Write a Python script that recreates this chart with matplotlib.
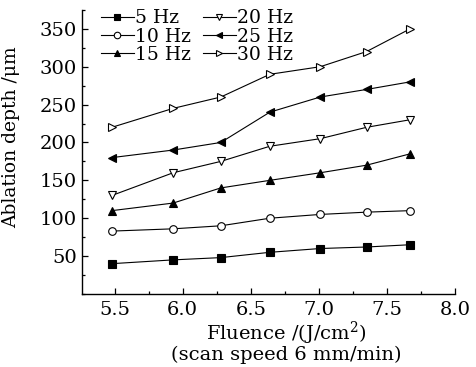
import matplotlib
matplotlib.use("Agg")
import matplotlib.pyplot as plt
from matplotlib.ticker import MultipleLocator

fluence = [5.48, 5.93, 6.28, 6.64, 7.01, 7.35, 7.67]
labels = ["5 Hz", "10 Hz", "15 Hz", "20 Hz", "25 Hz", "30 Hz"]
d5 = [40, 45, 48, 55, 60, 62, 65]
d10 = [83, 86, 90, 100, 105, 108, 110]
d15 = [110, 120, 140, 150, 160, 170, 185]
d20 = [130, 160, 175, 195, 205, 220, 230]
d25 = [180, 190, 200, 240, 260, 270, 280]
d30 = [220, 245, 260, 290, 300, 320, 350]
series = [d5, d10, d15, d20, d25, d30]
markers = ["s", "o", "^", "v", "<", ">"]
filled = [True, False, True, False, True, False]

plt.rcParams['font.family'] = ['DejaVu Serif']
plt.rcParams['mathtext.fontset'] = 'dejavuserif'

fig = plt.figure(figsize=(4.76, 3.67), dpi=100)
ax = fig.add_axes([0.172, 0.199, 0.784, 0.774])
for ys, lab, m, f in zip(series, labels, markers, filled):
    ax.plot(fluence, ys, color='black', lw=0.8, marker=m, ms=5.5,
            mfc='black' if f else 'white', mec='black', mew=0.8, label=lab)

ax.set_xlim(5.26, 8.0)
ax.set_ylim(0, 375)
ax.set_xticks([5.5, 6.0, 6.5, 7.0, 7.5, 8.0])
ax.set_xticklabels(["5.5", "6.0", "6.5", "7.0", "7.5", "8.0"])
ax.set_yticks([50, 100, 150, 200, 250, 300, 350])
ax.xaxis.set_minor_locator(MultipleLocator(0.25))
ax.yaxis.set_minor_locator(MultipleLocator(25))
ax.tick_params(which='both', direction='in', labelsize=14, width=0.9)
ax.tick_params(which='major', length=4)
ax.tick_params(which='minor', length=2.5)
ax.tick_params(axis='x', pad=5)
for s in ['top', 'right']:
    ax.spines[s].set_visible(False)
for s in ['left', 'bottom']:
    ax.spines[s].set_linewidth(1.0)

ax.set_ylabel("Ablation depth /\u03bcm", fontsize=13.5)
ax.yaxis.set_label_coords(-0.165, 0.553)
ax.set_xlabel("Fluence /(J/cm$^2$)\n(scan speed 6 mm/min)", fontsize=14, labelpad=1, linespacing=0.95)
ax.xaxis.set_label_coords(0.547, -0.09)

ax.legend(ncol=2, loc='upper left', bbox_to_anchor=(0.02, 1.042), frameon=False,
          fontsize=13.5, handlelength=1.8, handletextpad=0.05, columnspacing=0.6,
          labelspacing=0.02, borderaxespad=0.2, markerscale=0.85)

fig.savefig("out.png", dpi=100)
